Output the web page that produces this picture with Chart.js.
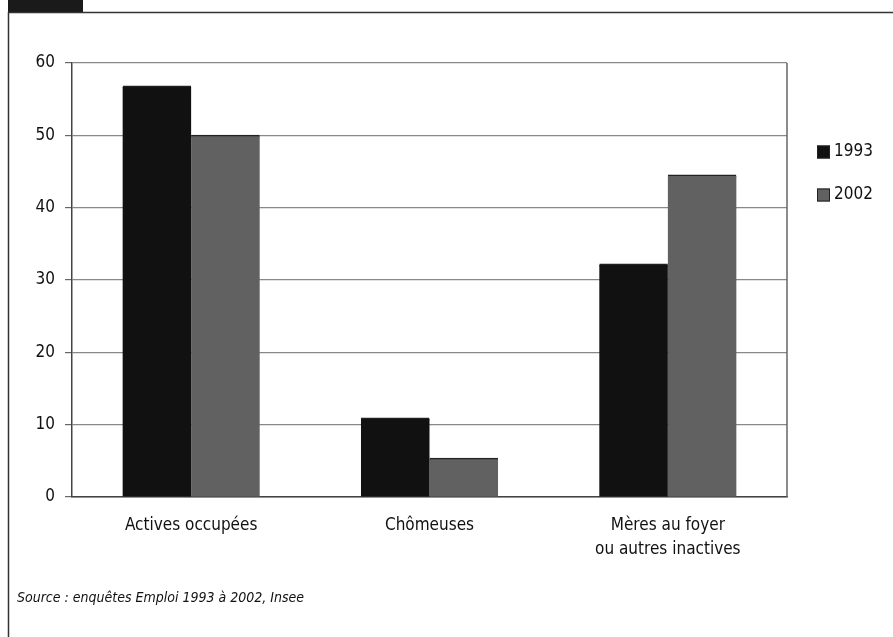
<!DOCTYPE html>
<html lang="fr">
<head>
<meta charset="utf-8">
<title>Situation des mères, 1993 et 2002</title>
<script src="https://cdn.jsdelivr.net/npm/chart.js@4.4.0/dist/chart.umd.min.js"></script>
<style>
  html, body { margin: 0; padding: 0; background: #fff; }
  canvas { display: block; }
</style>
</head>
<body>
<canvas id="barChart" width="893" height="637"></canvas>
<script>
const categories = ['Actives occupées', 'Chômeuses', ['Mères au foyer', 'ou autres inactives']];
const years = ['1993', '2002'];
const values1993 = [56.8, 10.9, 32.2];
const values2002 = [50.0, 5.35, 44.5];
const yTicks = [0, 10, 20, 30, 40, 50, 60];
const sourceText = 'Source : enquêtes Emploi 1993 à 2002, Insee';

const FONT = '"Liberation Sans Narrow", "DejaVu Sans Condensed", "Roboto", sans-serif';
const colors = ['#111111', '#616161'];

// frame, tab, legend and source note drawn around the plot
const decorations = {
  id: 'decorations',
  afterDraw(chart) {
    const ctx = chart.ctx;
    const area = chart.chartArea;
    ctx.save();

    // dark tab at top-left
    ctx.fillStyle = '#1a1a1a';
    ctx.fillRect(8, 0, 75, 12);

    // outer frame: left and top edges
    ctx.strokeStyle = '#333';
    ctx.lineWidth = 1.5;
    ctx.beginPath();
    ctx.moveTo(8.5, 637);
    ctx.lineTo(8.5, 12.5);
    ctx.lineTo(893, 12.5);
    ctx.stroke();

    // right edge of the plot
    ctx.strokeStyle = '#666';
    ctx.lineWidth = 1.5;
    ctx.beginPath();
    ctx.moveTo(area.right, area.top);
    ctx.lineTo(area.right, area.bottom);
    ctx.stroke();

    // legend
    ctx.font = '17px ' + FONT;
    ctx.textBaseline = 'middle';
    years.forEach((y, i) => {
      const cy = 152 + i * 43;
      ctx.fillStyle = colors[i];
      ctx.fillRect(817, cy - 6.5, 13, 13);
      ctx.strokeStyle = '#222';
      ctx.lineWidth = 1;
      ctx.strokeRect(817.5, cy - 6, 12, 12);
      ctx.fillStyle = '#111';
      ctx.fillText(y, 834, cy);
    });

    // source note
    ctx.font = 'italic 14px ' + FONT;
    ctx.fillStyle = '#111';
    ctx.fillText(sourceText, 17, 598);

    ctx.restore();
  }
};

new Chart(document.getElementById('barChart'), {
  type: 'bar',
  data: {
    labels: categories,
    datasets: [
      {
        label: years[0],
        data: values1993,
        backgroundColor: colors[0],
        borderColor: '#222',
        borderWidth: { top: 1.5, left: 0, right: 0, bottom: 0 },
        borderSkipped: false,
        inflateAmount: 0.6
      },
      {
        label: years[1],
        data: values2002,
        backgroundColor: colors[1],
        borderColor: '#222',
        borderWidth: { top: 1.5, left: 0, right: 0, bottom: 0 },
        borderSkipped: false,
        inflateAmount: 0.6
      }
    ]
  },
  options: {
    responsive: false,
    animation: false,
    layout: { padding: { left: 0, top: 63, right: 106, bottom: 0 } },
    datasets: { bar: { categoryPercentage: 0.575, barPercentage: 1 } },
    scales: {
      x: {
        grid: { display: false },
        border: { color: '#444', width: 1.5 },
        ticks: {
          color: '#111',
          font: { family: FONT, size: 17, lineHeight: 1.45 },
          padding: 8,
          maxRotation: 0
        },
        afterFit(scale) { scale.height = 140; }
      },
      y: {
        min: 0,
        max: 60,
        afterBuildTicks(scale) { scale.ticks = yTicks.map(v => ({ value: v })); },
        grid: { color: '#888', lineWidth: 1.2, tickLength: 7, tickColor: '#666' },
        border: { color: '#444', width: 1.5 },
        ticks: {
          color: '#111',
          font: { family: FONT, size: 17 },
          padding: 10
        },
        afterFit(scale) { scale.width = 72; }
      }
    },
    plugins: {
      legend: { display: false },
      tooltip: { enabled: false }
    }
  },
  plugins: [decorations]
});
</script>
</body>
</html>
